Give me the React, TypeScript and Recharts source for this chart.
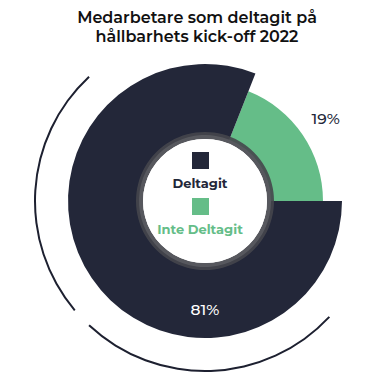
import { PieChart, Pie, Cell } from "recharts";

const categories = ["Deltagit", "Inte Deltagit"];
const shares = [81, 19];
const colors = ["#232739", "#65bd88"];
const title = ["Medarbetare som deltagit på", "hållbarhets kick-off 2022"];

// decorative outer rings (degrees): arc, gap, arc
const ringParts = [87, 7, 90];

const FONT = "Montserrat, 'Open Sans', 'Noto Sans', sans-serif";

const data = categories.map((name, i) => ({ name, value: shares[i] }));
const ringData = ringParts.map((v, i) => ({ name: `r${i}`, value: v }));

const RAD = Math.PI / 180;

const renderLabel = (p: any) => {
  const { cx, cy, midAngle, outerRadius, index, value } = p;
  if (index === 0) {
    return (
      <text x={cx} y={cy + 108} fill="#ffffff" fontSize={15.5} fontWeight={500} fontFamily={FONT} textAnchor="middle" dominantBaseline="central">
        {value}%
      </text>
    );
  }
  const r = outerRadius + 9;
  const x = cx + r * Math.cos(-midAngle * RAD);
  const y = cy + r * Math.sin(-midAngle * RAD);
  return (
    <text x={x} y={y} fill="#232739" fontSize={15.5} fontWeight={500} fontFamily={FONT} textAnchor="middle" dominantBaseline="central">
      {value}%
    </text>
  );
};

export default function App() {
  return (
    <div style={{ position: "absolute", left: 0, top: 0, width: 390, height: 390, background: "#fff" }}>
      <div
        style={{
          position: "absolute",
          left: 0,
          top: 8,
          width: 394,
          textAlign: "center",
          fontFamily: FONT,
          fontWeight: 600,
          fontSize: 16,
          lineHeight: "19px",
          color: "#111",
        }}
      >
        {title.map((t) => (
          <div key={t}>{t}</div>
        ))}
      </div>
      <PieChart width={390} height={390} style={{ position: "absolute", left: 0, top: 0 }}>
        <Pie
          data={ringData}
          dataKey="value"
          cx={200}
          cy={196}
          innerRadius={169}
          outerRadius={171}
          startAngle={133}
          endAngle={317}
          stroke="none"
          isAnimationActive={false}
        >
          {ringData.map((d, i) => (
            <Cell key={d.name} fill={i === 1 ? "transparent" : "#1d2030"} />
          ))}
        </Pie>
        <Pie
          data={data}
          dataKey="value"
          cx={200}
          cy={196}
          innerRadius={66}
          outerRadius={118}
          startAngle={0}
          endAngle={-360}
          stroke="none"
          isAnimationActive={false}
        >
          {data.map((d, i) => (
            <Cell key={d.name} fill={i === 1 ? colors[1] : "transparent"} />
          ))}
        </Pie>
        <Pie
          data={data}
          dataKey="value"
          cx={200}
          cy={196}
          innerRadius={66}
          outerRadius={137}
          startAngle={0}
          endAngle={-360}
          stroke="none"
          label={renderLabel}
          labelLine={false}
          isAnimationActive={false}
        >
          {data.map((d, i) => (
            <Cell key={d.name} fill={i === 0 ? colors[0] : "transparent"} />
          ))}
        </Pie>
        <Pie
          data={[{ name: "ring", value: 1 }]}
          dataKey="value"
          cx={200}
          cy={196}
          innerRadius={62}
          outerRadius={69}
          stroke="none"
          fill="#45464d"
          fillOpacity={0.9}
          isAnimationActive={false}
        />
        <Pie
          data={[{ name: "hole", value: 1 }]}
          dataKey="value"
          cx={200}
          cy={196}
          innerRadius={0}
          outerRadius={62}
          stroke="none"
          fill="#ffffff"
          isAnimationActive={false}
        />
      </PieChart>
      <div
        style={{
          position: "absolute",
          left: 140,
          top: 152,
          width: 120,
          textAlign: "center",
          fontFamily: FONT,
          fontWeight: 700,
          fontSize: 13,
        }}
      >
        {categories.map((c, i) => (
          <div key={c} style={{ marginBottom: i === 0 ? 6 : 0 }}>
            <div style={{ width: 17, height: 17, background: colors[i], margin: "0 auto 5px" }} />
            <div style={{ color: colors[i], lineHeight: "18px" }}>{c}</div>
          </div>
        ))}
      </div>
    </div>
  );
}
